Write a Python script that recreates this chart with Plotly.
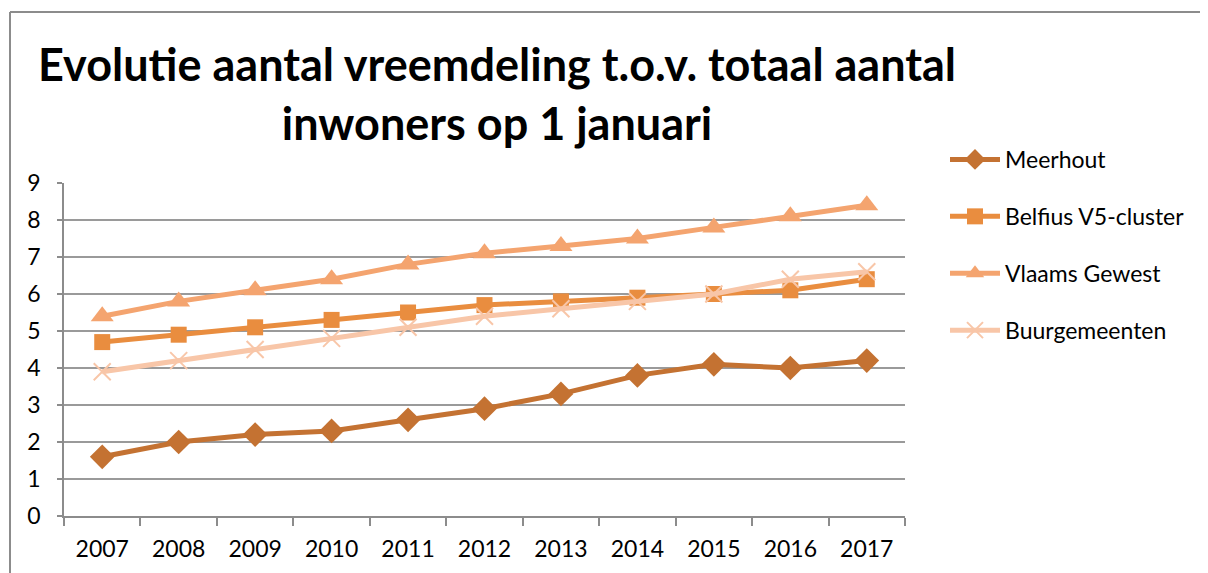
import plotly.graph_objects as go

years = ["2007", "2008", "2009", "2010", "2011", "2012", "2013", "2014", "2015", "2016", "2017"]
meerhout = [1.6, 2.0, 2.2, 2.3, 2.6, 2.9, 3.3, 3.8, 4.1, 4.0, 4.2]
belfius = [4.7, 4.9, 5.1, 5.3, 5.5, 5.7, 5.8, 5.9, 6.0, 6.1, 6.4]
vlaams = [5.4, 5.8, 6.1, 6.4, 6.8, 7.1, 7.3, 7.5, 7.8, 8.1, 8.4]
buur = [3.9, 4.2, 4.5, 4.8, 5.1, 5.4, 5.6, 5.8, 6.0, 6.4, 6.6]

series = [
    ("Meerhout", meerhout, "#C47232", "diamond", 19),
    ("Belfius V5-cluster", belfius, "#E98D3F", "square", 16),
    ("Vlaams Gewest", vlaams, "#F4A46F", "triangle-up", 20),
    ("Buurgemeenten", buur, "#F8C6A8", "x-thin", 17),
]

fig = go.Figure()
for i, (name, vals, col, sym, sz) in enumerate(series):
    fig.add_trace(go.Scatter(
        x=years, y=vals, name=name, mode="lines+markers",
        line=dict(color=col, width=5),
        marker=dict(symbol=sym, size=sz, color=col,
                    line=dict(color=col, width=2 if sym == "x-thin" else 0)),
        legendgroup=f"g{i}",
    ))

OFF = 8  # page body margin
W, H = 1208 - OFF, 573 - OFF
L, T = 64 - OFF, 183 - OFF
plot_right, plot_bottom = 905 - OFF, 516 - OFF
R, B = W - plot_right, H - plot_bottom
pw, ph = plot_right - L, plot_bottom - T


def px(x):
    return (x - OFF - L) / pw


def py(y):
    return (plot_bottom - (y - OFF)) / ph


border = dict(color="#8c8c8c", width=2)

fig.update_layout(
    width=W, height=H,
    margin=dict(l=L, r=R, t=T, b=B),
    paper_bgcolor="white", plot_bgcolor="white",
    font=dict(family="Lato, Carlito, sans-serif", size=23, color="#000000"),
    showlegend=True,
    legend=dict(x=px(945), y=py(138), xanchor="left", yanchor="top",
                font=dict(size=23), tracegroupgap=24, itemwidth=50,
                bgcolor="rgba(0,0,0,0)"),
    xaxis=dict(type="category", range=[-0.5, 10.5], showgrid=False,
               showline=True, linecolor="#8c8c8c", linewidth=1.5,
               ticks="outside", tickson="boundaries", ticklen=8, tickwidth=1.5,
               tickcolor="#8c8c8c", tickfont=dict(size=23), ticklabelstandoff=12),
    yaxis=dict(range=[0, 9], dtick=1, showgrid=True, gridcolor="#9a9a9a", gridwidth=1.5,
               showline=True, linecolor="#8c8c8c", linewidth=1.5,
               ticks="outside", ticklen=5, tickwidth=1.5, tickcolor="#8c8c8c",
               tickfont=dict(size=23), zeroline=False, ticklabelstandoff=12),
    annotations=[dict(
        text="<b>Evolutie aantal vreemdeling t.o.v. totaal aantal<br>inwoners op 1 januari</b>",
        x=px(497), y=py(93), xref="paper", yref="paper",
        xanchor="center", yanchor="middle", showarrow=False,
        font=dict(size=45, color="#000000"), align="center")],
    shapes=[
        dict(type="line", xref="paper", yref="paper",
             x0=px(10), x1=px(1400), y0=py(12), y1=py(12), line=border),
        dict(type="line", xref="paper", yref="paper",
             x0=px(10), x1=px(10), y0=py(12), y1=py(800), line=border),
    ],
)

fig.write_html("out.html")
